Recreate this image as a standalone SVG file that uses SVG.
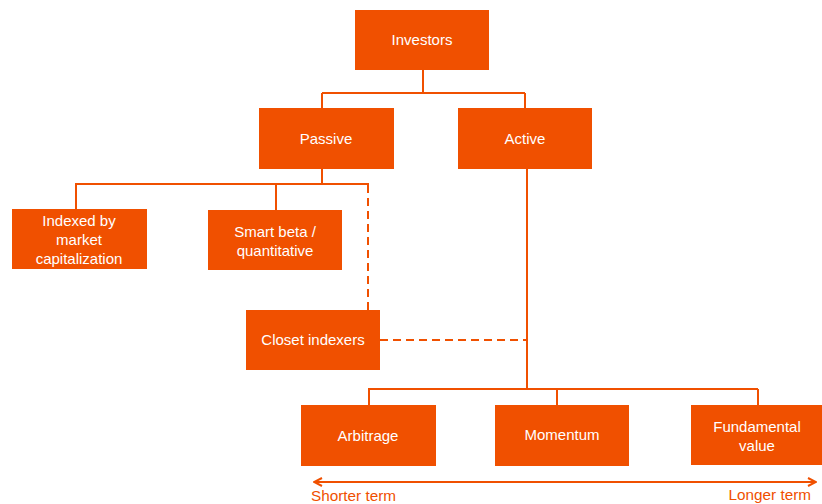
<svg xmlns="http://www.w3.org/2000/svg" width="822" height="504" viewBox="0 0 822 504">
<defs>
<style>
.box{fill:#F05000;}
.t{font-family:"Liberation Sans",Arial,sans-serif;font-size:15px;fill:#ffffff;text-anchor:middle;}
.lbl{font-family:"Liberation Sans",Arial,sans-serif;font-size:15.3px;fill:#F05000;}
.ln{stroke:#F05000;stroke-width:2;fill:none;}
.dash{stroke:#F05000;stroke-width:2;fill:none;stroke-dasharray:8,5;}
</style>
<marker id="ah" viewBox="0 0 10 10" refX="9" refY="5" markerWidth="10" markerHeight="10" markerUnits="userSpaceOnUse" orient="auto-start-reverse">
<path d="M1,1 L9,5 L1,9" fill="none" stroke="#F05000" stroke-width="2"/>
</marker>
</defs>
<rect width="822" height="504" fill="#ffffff"/>
<g id="connectors">
<path class="ln" d="M423,70 V93 M322,93 H525 M322,93 V108 M525,93 V108"/>
<path class="ln" d="M322,169 V184 M75,184 H369 M76,184 V209 M276,184 V210"/>
<path class="dash" d="M368,185 V310"/>
<path class="dash" d="M380,340 H527"/>
<path class="ln" d="M527,169 V389 M368,389 H758 M369,389 V405 M557,389 V405 M758,389 V405"/>
<path class="ln" d="M314,482 H816" marker-start="url(#ah)" marker-end="url(#ah)"/>
</g>
<g id="investors"><rect class="box" x="355" y="10" width="134" height="60"/><text class="t" x="422" y="45">Investors</text></g>
<g id="passive"><rect class="box" x="259" y="108" width="135" height="61"/><text class="t" x="326" y="144">Passive</text></g>
<g id="active"><rect class="box" x="458" y="108" width="134" height="61"/><text class="t" x="525" y="144">Active</text></g>
<g id="indexed"><rect class="box" x="12" y="209" width="135" height="60"/><text class="t" x="79" y="226">Indexed by</text><text class="t" x="79" y="245">market</text><text class="t" x="79" y="264">capitalization</text></g>
<g id="smartbeta"><rect class="box" x="208" y="210" width="134" height="60"/><text class="t" x="275" y="237">Smart beta /</text><text class="t" x="275" y="256">quantitative</text></g>
<g id="closet"><rect class="box" x="246" y="310" width="134" height="60"/><text class="t" x="313" y="345">Closet indexers</text></g>
<g id="arbitrage"><rect class="box" x="301" y="405" width="135" height="61"/><text class="t" x="368" y="441">Arbitrage</text></g>
<g id="momentum"><rect class="box" x="495" y="405" width="134" height="61"/><text class="t" x="562" y="440">Momentum</text></g>
<g id="fundamental"><rect class="box" x="691" y="405" width="131" height="60"/><text class="t" x="757" y="432">Fundamental</text><text class="t" x="757" y="451">value</text></g>
<g id="labels"><text class="lbl" x="311" y="501">Shorter term</text><text class="lbl" x="811" y="500" text-anchor="end">Longer term</text></g>
</svg>
